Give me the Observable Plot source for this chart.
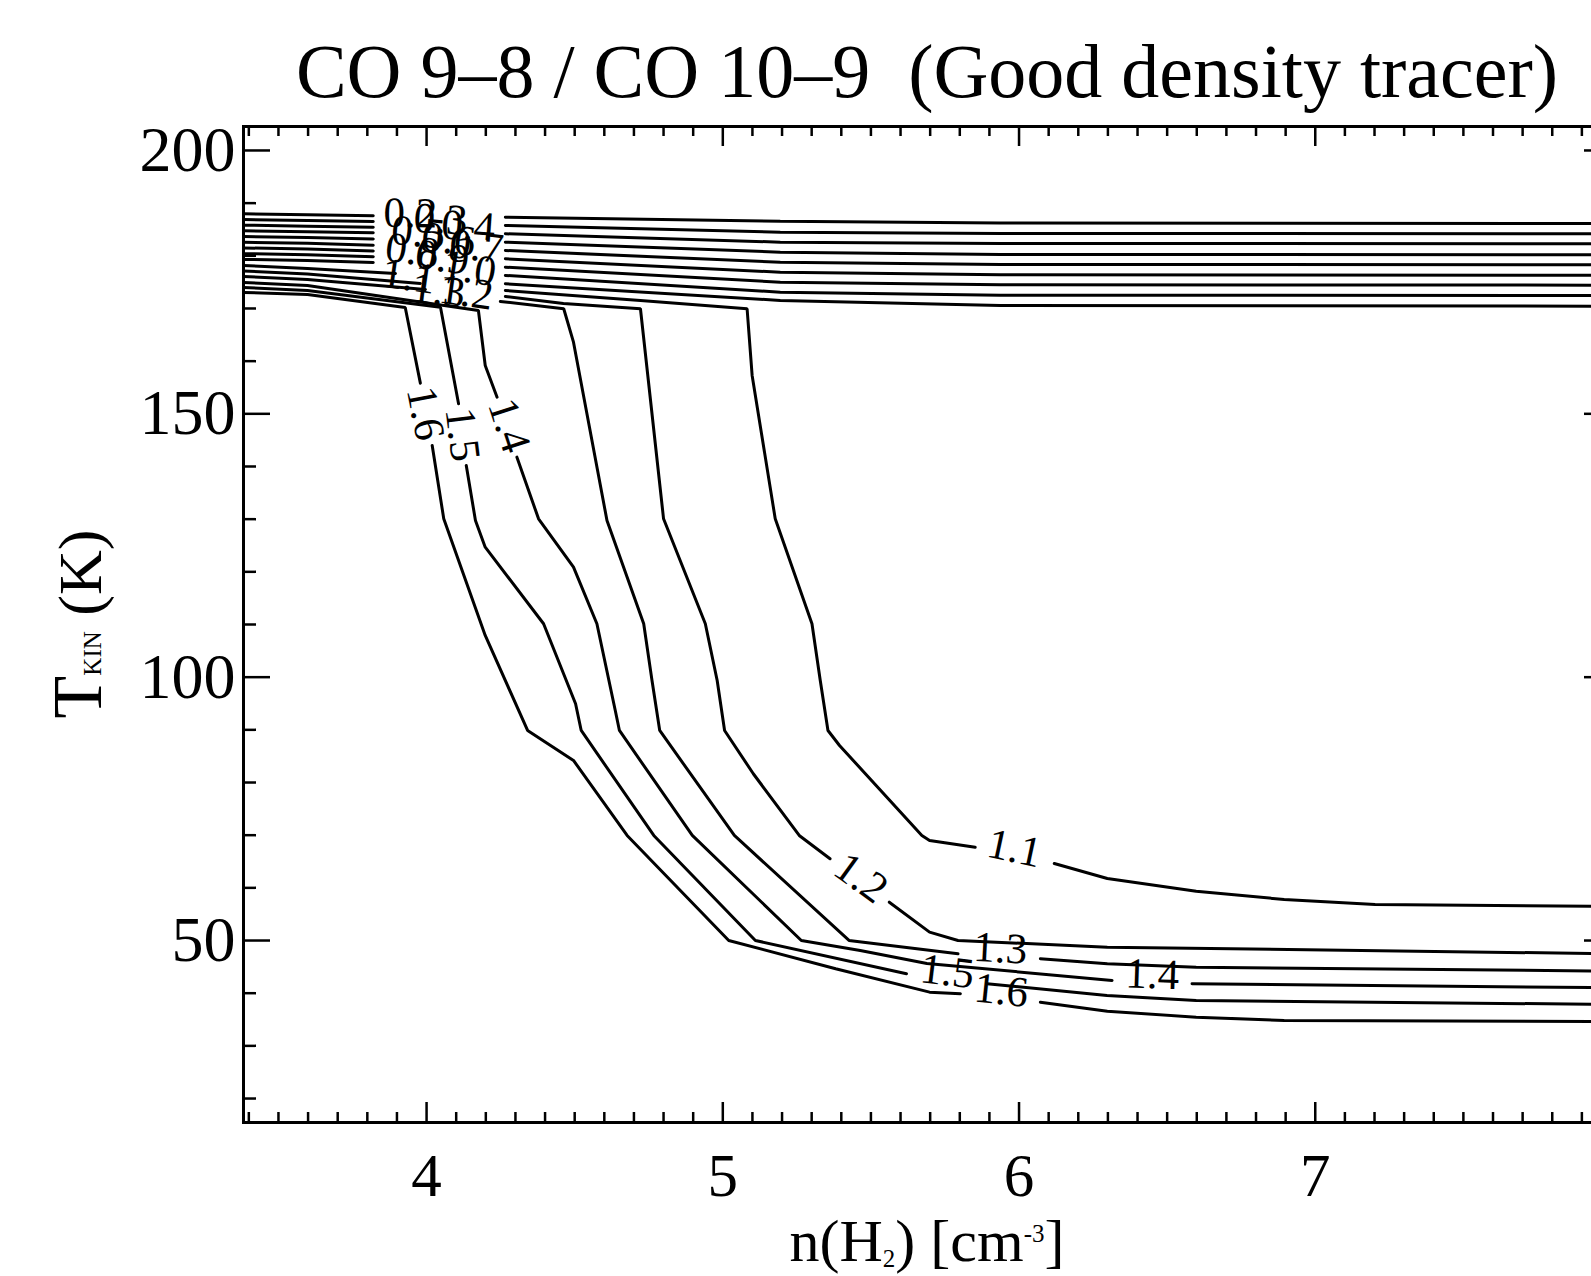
<!DOCTYPE html>
<html><head><meta charset="utf-8">
<script src="https://cdn.jsdelivr.net/npm/d3@7"></script>
<script src="https://cdn.jsdelivr.net/npm/@observablehq/plot@0.6"></script>
<style>
html,body{margin:0;padding:0;background:#fff;overflow:hidden;}
#wrap{width:1591px;height:1276px;overflow:hidden;position:relative;background:#fff;}
</style></head><body><div id="wrap"></div>
<script>
// ---------- data ----------
const titleText = "CO 9–8 / CO 10–9\u00a0 (Good density tracer)";
const xMajor = [4, 5, 6, 7, 8];
const xTickLabels = [4, 5, 6, 7];
const yMajor = [50, 100, 150, 200];
const yTickLabels = [50, 100, 150, 200];
const yMinor = [20, 30, 40, 60, 70, 80, 90, 110, 120, 130, 140, 160, 170, 180, 190];
const levels = ["0.2","0.3","0.4","0.5","0.6","0.7","0.8","0.9","1.0","1.1","1.2","1.3","1.4","1.5","1.6"];

// contour paths: [log n(H2), T_kin]; [null,null] = gap left for a label
const c02 = [[3.382,187.98],[3.598,187.79],[3.820,187.60],[null,null],[4.266,187.34],[5.194,186.58],[5.937,186.24],[8.0,186.14]];
const c03 = [[3.382,186.90],[3.598,186.71],[3.820,186.52],[null,null],[4.266,185.76],[5.194,184.49],[5.937,184.24],[8.0,184.18]];
const c04 = [[3.382,185.82],[3.598,185.63],[3.820,185.44],[null,null],[4.266,184.18],[5.194,182.59],[5.937,182.34],[8.0,182.29]];
const c05 = [[3.382,184.74],[3.598,184.55],[3.820,184.36],[null,null],[4.266,182.59],[5.194,180.69],[5.937,180.25],[8.0,180.20]];
const c06 = [[3.382,183.65],[3.598,183.46],[3.820,183.18],[null,null],[4.266,181.01],[5.194,178.79],[5.937,178.36],[8.0,178.30]];
const c07 = [[3.382,182.57],[3.598,182.38],[3.820,182.00],[null,null],[4.266,179.44],[5.194,176.89],[5.937,176.40],[8.0,176.32]];
const c08 = [[3.382,181.49],[3.598,181.30],[3.820,180.92],[null,null],[4.266,177.84],[5.194,175.00],[5.937,174.50],[8.0,174.43]];
const c09 = [[3.382,180.41],[3.598,180.22],[3.820,179.84],[null,null],[4.266,176.27],[5.194,173.10],[5.937,172.53],[8.0,172.47]];
const c10 = [[3.382,179.32],[3.598,179.12],[3.820,178.74],[null,null],[4.266,174.69],[5.194,171.52],[5.937,170.57],[8.0,170.44]];
const c11 = [[3.382,178.17],[3.598,177.60],[3.895,176.65],[null,null],[4.266,173.42],[4.722,171.52],[5.082,169.95],[5.099,157.28],[5.177,130.07],[5.301,110.14],[5.329,99.37],[5.355,89.88],[5.394,87.03],[5.672,69.95],[5.698,69.00],[5.852,67.72],[null,null],[6.119,64.63],[6.298,61.78],[6.598,59.37],[6.895,57.79],[7.202,56.84],[8.0,56.47]];
const c12 = [[3.382,177.12],[3.598,176.55],[3.979,174.75],[null,null],[4.266,172.28],[4.462,170.95],[4.722,169.95],[4.800,130.07],[4.941,110.14],[4.981,99.37],[5.006,89.88],[5.103,81.66],[5.258,69.95],[5.362,65.52],[null,null],[5.562,57.28],[5.698,51.59],[5.794,50.01],[6.298,48.74],[8.0,47.49]];
const c13 = [[3.382,176.08],[3.598,175.51],[3.996,173.61],[null,null],[4.249,171.33],[4.463,169.95],[4.496,163.60],[4.609,129.75],[4.733,110.14],[4.761,99.37],[4.787,89.88],[5.039,69.95],[5.426,50.01],[5.794,47.48],[null,null],[6.072,46.54],[6.298,45.59],[6.598,44.94],[8.0,44.18]];
const c14 = [[3.382,174.94],[3.598,174.37],[4.175,169.62],[4.198,159.18],[4.238,153.16],[null,null],[4.305,141.77],[4.378,130.07],[4.496,120.89],[4.575,110.14],[4.637,93.68],[4.651,89.88],[4.897,69.95],[5.265,50.01],[5.464,48.11],[5.689,45.64],[6.314,42.42],[null,null],[6.584,41.79],[8.0,41.03]];
const c15 = [[3.382,173.99],[3.598,173.42],[4.047,170.25],[4.108,151.91],[null,null],[4.134,140.19],[4.165,129.75],[4.198,124.68],[4.395,110.14],[4.503,94.95],[4.522,89.88],[4.767,69.95],[5.110,50.01],[5.620,43.69],[null,null],[5.892,41.79],[6.297,39.57],[6.598,38.62],[8.0,37.86]];
const c16 = [[3.382,173.04],[3.598,172.66],[3.928,170.19],[3.979,155.82],[null,null],[4.019,143.99],[4.058,130.07],[4.198,107.92],[4.341,89.88],[4.496,84.19],[4.677,69.95],[5.020,50.01],[5.381,44.64],[5.698,40.20],[5.802,39.89],[null,null],[6.072,38.30],[6.298,36.59],[6.598,35.45],[6.895,34.82],[8.0,34.63]];

// contour labels: text, log n, T, angle (deg)
const labelText  = ["0.2","0.3","0.4","0.5","0.6","0.7","0.8","0.9","1.0","1.1","1.2","1.3","1.6","1.5","1.4","1.1","1.2","1.3","1.4","1.5","1.6"];
const labelX     = [3.945,4.047,4.141,3.972,4.074,4.168,3.952,4.053,4.144,3.939,4.134,4.040,3.996,4.121,4.279,5.984,5.467,5.937,6.450,5.758,5.940];
const labelT     = [188.04,186.90,185.57,184.43,183.10,181.77,181.01,179.68,177.60,176.08,173.04,173.42,150.07,146.08,147.79,67.48,61.90,48.49,43.56,44.12,40.52];
const labelAngle = [1,3,4,5,6,7,8,8,9,8,8,7,79,83,72,12,36,3,2,7,6];

// ---------- build tables ----------
const paths = [c02,c03,c04,c05,c06,c07,c08,c09,c10,c11,c12,c13,c14,c15,c16];
const rows = [];
paths.forEach((pts, i) => pts.forEach(([x, T]) => rows.push({level: levels[i], x, T})));
const labels = labelText.map((t, i) => ({text: t, x: labelX[i], T: labelT[i], angle: labelAngle[i]}));
const xMinor = d3.range(34, 80).filter(d => d % 10 !== 0).map(d => d / 10);

const W = 1620, H = 1276, mL = 243, mT = 126, mB = 154, mR = 9;
const pw = W - mL - mR, ph = H - mT - mB;
const font = "'Liberation Serif','Times New Roman',Times,serif";

const svg = Plot.plot({
  width: W, height: H,
  marginLeft: mL, marginTop: mT, marginBottom: mB, marginRight: mR,
  style: {fontFamily: font, background: "white", color: "black"},
  x: {domain: [3.382, 8.0]},
  y: {domain: [15.45, 204.55]},
  marks: [
    Plot.line(rows, {x: "x", y: "T", z: "level", stroke: "black", strokeWidth: 3, strokeLinejoin: "miter"}),
    Plot.text(labels, {x: "x", y: "T", text: "text", rotate: "angle", fontSize: 43, fontFamily: font, fill: "black", textAnchor: "middle", lineAnchor: "middle"}),
    // bottom / top ticks
    Plot.ruleX(xMajor, {x: d => d, insetTop: ph - 20, stroke: "black", strokeWidth: 2.5}),
    Plot.ruleX(xMinor, {x: d => d, insetTop: ph - 10, stroke: "black", strokeWidth: 2.5}),
    Plot.ruleX(xMajor, {x: d => d, insetBottom: ph - 20, stroke: "black", strokeWidth: 2.5}),
    Plot.ruleX(xMinor, {x: d => d, insetBottom: ph - 10, stroke: "black", strokeWidth: 2.5}),
    // left / right ticks
    Plot.ruleY(yMajor, {y: d => d, insetRight: pw - 27, stroke: "black", strokeWidth: 2.5}),
    Plot.ruleY(yMinor, {y: d => d, insetRight: pw - 13, stroke: "black", strokeWidth: 2.5}),
    Plot.ruleY(yMajor, {y: d => d, insetLeft: pw - 27, stroke: "black", strokeWidth: 2.5}),
    Plot.ruleY(yMinor, {y: d => d, insetLeft: pw - 13, stroke: "black", strokeWidth: 2.5}),
    Plot.axisX({ticks: xTickLabels, tickSize: 0, tickPadding: 30, fontSize: 61, fontFamily: font, label: null, tickFormat: d => String(d)}),
    Plot.axisY({ticks: yTickLabels, tickSize: 0, tickPadding: 8, fontSize: 64, fontFamily: font, label: null, tickFormat: d => String(d)}),
    Plot.frame({stroke: "black", strokeWidth: 3})
  ]
});
svg.style.maxWidth = "none";
svg.style.width = W + "px";
svg.style.height = H + "px";

const s = d3.select(svg);
s.append("text")
  .attr("x", mL + pw / 2).attr("y", 97)
  .attr("text-anchor", "middle").attr("font-size", 76).attr("font-family", font).attr("fill", "black")
  .text(titleText);

const xl = s.append("text")
  .attr("x", mL + pw / 2).attr("y", 1261)
  .attr("text-anchor", "middle").attr("font-size", 60).attr("font-family", font).attr("fill", "black");
xl.append("tspan").text("n(H");
xl.append("tspan").attr("font-size", 25).attr("dy", 6).text("2");
xl.append("tspan").attr("dy", -6).text(") [cm");
xl.append("tspan").attr("font-size", 25).attr("dy", -19).text("-3");
xl.append("tspan").attr("dy", 19).text("]");

const yl = s.append("text")
  .attr("transform", `translate(101,${mT + ph / 2}) rotate(-90)`)
  .attr("text-anchor", "middle").attr("font-size", 62).attr("font-family", font).attr("fill", "black");
yl.append("tspan").attr("font-size", 70).text("T");
yl.append("tspan").attr("font-size", 25).text("KIN");
yl.append("tspan").text(" (K)");

document.getElementById("wrap").appendChild(svg);
</script>
</body></html>
